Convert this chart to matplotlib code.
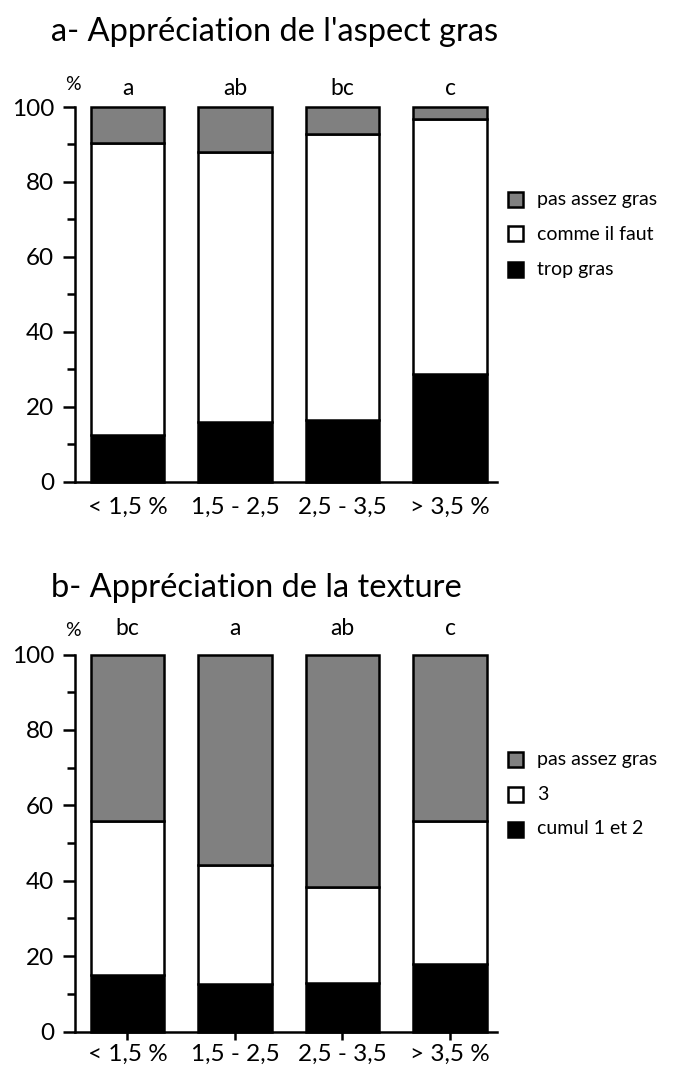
import matplotlib
matplotlib.use("Agg")
import matplotlib.pyplot as plt
from matplotlib.ticker import MultipleLocator
import numpy as np

plt.rcParams["font.family"] = ["Lato", "DejaVu Sans"]

# ---------- data ----------
categories = ["< 1,5 %", "1,5 - 2,5", "2,5 - 3,5", "> 3,5 %"]

# a- aspect gras (stacked bottom -> top)
a_trop_gras = [12.5, 16.0, 16.5, 28.7]
a_comme_il_faut = [77.8, 72.1, 76.2, 68.0]
a_pas_assez = [9.7, 11.9, 7.3, 3.3]
a_letters = ["a", "ab", "bc", "c"]
a_labels = ["pas assez gras", "comme il faut", "trop gras"]

# b- texture
b_cumul_12 = [15.0, 12.5, 12.8, 17.8]
b_trois = [40.8, 31.7, 25.5, 38.1]
b_pas_assez = [44.2, 55.8, 61.7, 44.1]
b_letters = ["bc", "a", "ab", "c"]
b_labels = ["pas assez gras", "3", "cumul 1 et 2"]

GRAY = "#808080"
W, H = 673, 1070


def fx(px):
    return px / W


def fy(py):
    return 1 - py / H


def draw_panel(ax, bottom_vals, mid_vals, top_vals, letters, xticks_marks, letter_y):
    x = np.arange(len(categories))
    kw = dict(width=0.68, edgecolor="black", linewidth=1.8, clip_on=False, zorder=3)
    ax.bar(x, bottom_vals, color="black", **kw)
    ax.bar(x, mid_vals, bottom=bottom_vals, color="white", **kw)
    ax.bar(x, top_vals, bottom=np.add(bottom_vals, mid_vals), color=GRAY, **kw)

    ax.set_xlim(-0.488, 3.437)
    ax.set_ylim(0, 100)
    ax.yaxis.set_major_locator(MultipleLocator(20))
    ax.yaxis.set_minor_locator(MultipleLocator(10))
    ax.set_xticks(x)
    ax.set_xticklabels(categories, fontsize=17.5)
    for s in ("top", "right"):
        ax.spines[s].set_visible(False)
    for s in ("left", "bottom"):
        ax.spines[s].set_linewidth(1.8)
    ax.tick_params(axis="y", which="major", length=9, width=1.8, labelsize=17.5, pad=6)
    ax.tick_params(axis="y", which="minor", length=6, width=1.8)
    if xticks_marks:
        ax.tick_params(axis="x", length=6, width=1.8, pad=3)
    else:
        ax.tick_params(axis="x", length=0, pad=11)
    ax.patch.set_visible(False)

    for xi, lt in zip(x, letters):
        ax.text(xi, letter_y, lt, ha="center", va="center", fontsize=16.5)


def draw_legend(labels, y0):
    colors = [GRAY, "white", "black"]
    for i, (lab, c) in enumerate(zip(labels, colors)):
        yy = y0 + i * 35
        fig.patches.append(plt.Rectangle((fx(508), fy(yy + 7.5)), 15 / W, 15 / H,
                                         facecolor=c, edgecolor="black", linewidth=1.8,
                                         transform=fig.transFigure, figure=fig))
        fig.text(fx(537), fy(yy), lab, fontsize=14, va="center", ha="left")


fig = plt.figure(figsize=(W / 100, H / 100), dpi=100)

# ---------- panel a ----------
ax_a = fig.add_axes([fx(75), fy(481.7), fx(497) - fx(75), (481.7 - 107) / H])
draw_panel(ax_a, a_trop_gras, a_comme_il_faut, a_pas_assez, a_letters, False, 105.0)
fig.text(fx(51), fy(32), "a- Appréciation de l'aspect gras", fontsize=23.5, va="center")
fig.text(fx(73), fy(84), "%", fontsize=14, ha="center", va="center")
draw_legend(a_labels, 199)

# ---------- panel b ----------
ax_b = fig.add_axes([fx(75), fy(1031.5), fx(497) - fx(75), 377 / H])
draw_panel(ax_b, b_cumul_12, b_trois, b_pas_assez, b_letters, True, 107.0)
fig.text(fx(51), fy(588), "b- Appréciation de la texture", fontsize=23.5, va="center")
fig.text(fx(73), fy(631), "%", fontsize=14, ha="center", va="center")
draw_legend(b_labels, 759)

fig.savefig("out.png", dpi=100, facecolor="white")
